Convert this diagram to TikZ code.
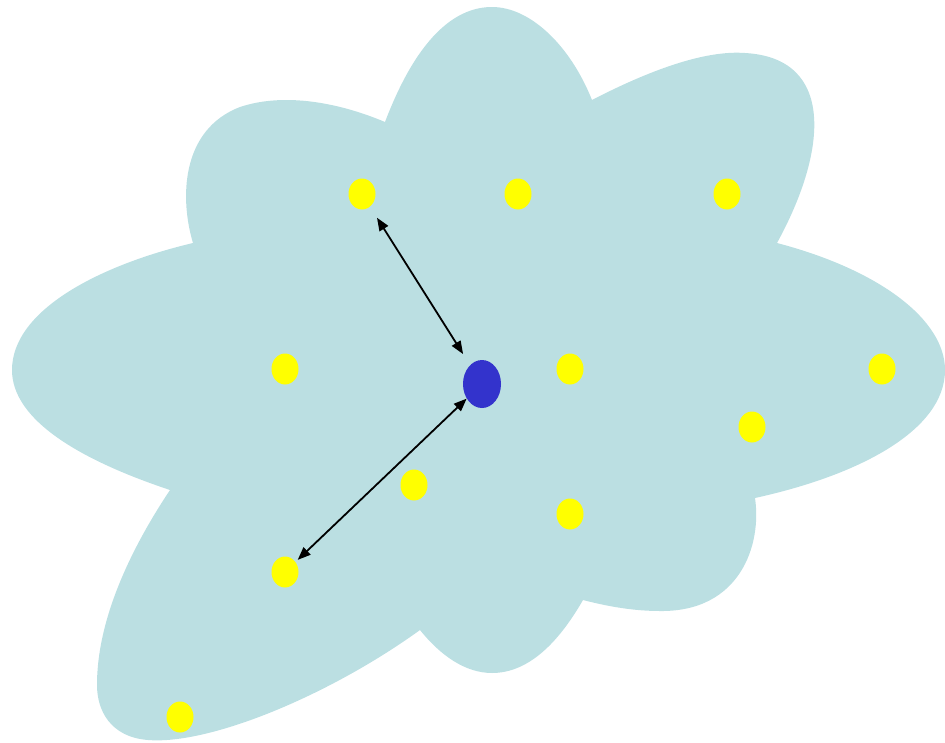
\documentclass[tikz,border=0pt]{standalone}
\usetikzlibrary{shapes.geometric,arrows.meta}
\definecolor{cloudc}{HTML}{BBDFE2}
\definecolor{bluec}{HTML}{3333CC}
\definecolor{yelc}{HTML}{FFFF00}
\tikzset{
  ydot/.style={ellipse,fill=yelc,draw=none,minimum width=27pt,minimum height=31pt,inner sep=0pt},
  bdot/.style={ellipse,fill=bluec,draw=none,minimum width=38pt,minimum height=48pt,inner sep=0pt},
  link/.style={>={Triangle[length=13pt,width=10pt]},<->,line width=1.8pt,black}
}
\begin{document}
\begin{tikzpicture}[x=1pt,y=-1pt]
\useasboundingbox (0,0) rectangle (945,742);
% cloud
\fill[cloudc] (385,122)
  .. controls (420,30) and (460,7) .. (492,7)
  .. controls (530,7) and (570,45) .. (592,100)
  .. controls (650,70) and (705,50) .. (745,53)
  .. controls (835,58) and (828,150) .. (777,243)
  .. controls (880,270) and (945,320) .. (945,370)
  .. controls (945,430) and (860,475) .. (755,498)
  .. controls (762,545) and (740,612) .. (660,611)
  .. controls (635,611) and (610,607) .. (583,600)
  .. controls (560,640) and (530,673) .. (492,673)
  .. controls (465,673) and (440,655) .. (420,630)
  .. controls (330,695) and (210,745) .. (148,740)
  .. controls (110,737) and (97,710) .. (97,685)
  .. controls (97,620) and (130,550) .. (170,490)
  .. controls (80,460) and (12,420) .. (12,370)
  .. controls (12,310) and (100,265) .. (193,243)
  .. controls (180,200) and (180,130) .. (240,107)
  .. controls (285,92) and (340,103) .. (385,122)
  -- cycle;
% nodes
\node[ydot] (y1) at (362,194) {};
\node[ydot] (y2) at (518,194) {};
\node[ydot] (y3) at (727,194) {};
\node[ydot] (y4) at (285,369) {};
\node[ydot] (y5) at (570,369) {};
\node[ydot] (y6) at (882,369) {};
\node[ydot] (y7) at (752,427) {};
\node[ydot] (y8) at (414,485) {};
\node[ydot] (y9) at (570,514) {};
\node[ydot] (y10) at (285,572) {};
\node[ydot] (y11) at (180,717) {};
\node[bdot] (b) at (482,384) {};
% connectors
\draw[link,shorten <=13pt,shorten >=13pt] (y1) -- (b);
\draw[link,shorten <=0pt,shorten >=3pt] (b) -- (y10);
\end{tikzpicture}
\end{document}
